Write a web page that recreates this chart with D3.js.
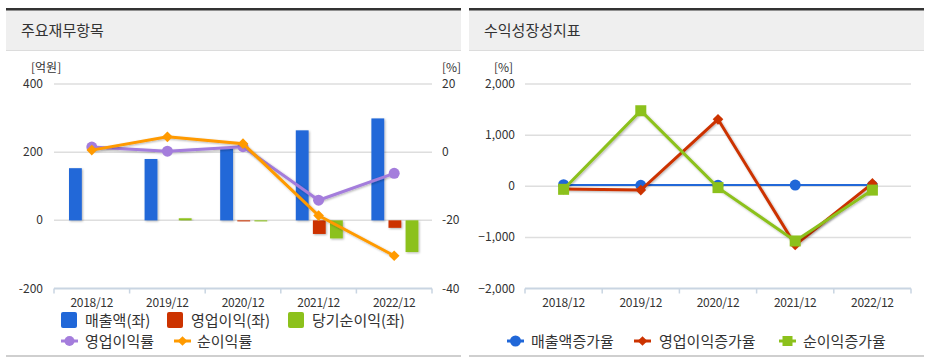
<!DOCTYPE html>
<html>
<head>
<meta charset="utf-8">
<script src="https://cdn.jsdelivr.net/npm/d3@7"></script>
<style>
  body { margin: 0; background: #fff; font-family: "Noto Sans CJK KR", "Noto Sans", sans-serif; }
  svg text { fill: #333; }
</style>
</head>
<body>
<div class="svg-wrap"></div>
<script>
// 주요재무항목
let years = ["2018/12", "2019/12", "2020/12", "2021/12", "2022/12"];
let sales = [153, 180, 215, 264, 299];          // 매출액(좌)
let opProfit = [0, 0, -3, -40, -22];            // 영업이익(좌)
let netProfit = [0, 6, -3, -53, -93];           // 당기순이익(좌)
let opMargin = [1.5, 0.3, 1.6, -14.1, -6.2];    // 영업이익률
let netMargin = [0.6, 4.5, 2.5, -18.6, -30.4];  // 순이익률
let leftTicks = [-200, 0, 200, 400];
let rightTicks = [-40, -20, 0, 20];

// 수익성장성지표
let salesGrowth = [30, 18, 19, 23, 14];
let opGrowth = [-55, -75, 1309, -1150, 55];
let netGrowth = [-60, 1477, -27, -1070, -75];
let growthTicks = [-2000, -1000, 0, 1000, 2000];

let blue = "#2067d8", red = "#cc3300", green = "#8cc11c", purple = "#a47ddc", orange = "#ff9a00";

let svg = d3.select(".svg-wrap")
  .append("svg")
  .attr("width", 933)
  .attr("height", 361);

let defs = svg.append("defs");
defs.append("filter")
  .attr("id", "shadow")
  .attr("x", "-30%").attr("y", "-30%").attr("width", "160%").attr("height", "160%")
  .append("feDropShadow")
  .attr("dx", 1).attr("dy", 1)
  .attr("stdDeviation", 1.3)
  .attr("flood-color", "#000")
  .attr("flood-opacity", 0.3);

function panel(x0, title) {
  let g = svg.append("g");
  g.append("rect").attr("x", x0).attr("y", 10).attr("width", 455).attr("height", 40).attr("fill", "#efefef");
  g.append("rect").attr("x", x0).attr("y", 8).attr("width", 455).attr("height", 2.5).attr("fill", "#333");
  g.append("rect").attr("x", x0).attr("y", 50).attr("width", 455).attr("height", 1).attr("fill", "#dcdcdc");
  g.append("rect").attr("x", x0).attr("y", 355).attr("width", 455).attr("height", 2).attr("fill", "#cfcfcf");
  g.append("text").attr("x", x0 + 15).attr("y", 36).style("font-size", "15px").text(title);
  return g;
}

function grid(g, y, ticks, x1, x2) {
  g.selectAll(null)
    .data(ticks.filter(t => t !== y.domain()[0]))
    .enter()
    .append("line")
    .attr("x1", x1).attr("x2", x2)
    .attr("y1", d => y(d)).attr("y2", d => y(d))
    .attr("stroke", "#dedede").attr("stroke-width", 1.5);
}

function bottomAxis(g, x, y0) {
  let r = x.range();
  g.append("line").attr("x1", r[0]).attr("x2", r[1]).attr("y1", y0).attr("y2", y0)
    .attr("stroke", "#c9d5e2").attr("stroke-width", 2);
  let edges = years.map(d => x(d)).concat([r[1]]);
  g.selectAll(null).data(edges).enter().append("line")
    .attr("x1", d => d).attr("x2", d => d)
    .attr("y1", y0).attr("y2", y0 + 5)
    .attr("stroke", "#c9d5e2").attr("stroke-width", 1.5);
  g.selectAll(null).data(years).enter().append("text")
    .attr("x", d => x(d) + x.bandwidth() / 2)
    .attr("y", y0 + 18)
    .attr("text-anchor", "middle")
    .style("font-size", "12px")
    .style("letter-spacing", "-0.3px")
    .text(d => d);
}

function drawLine(g, x, y, values, color) {
  let cx = (d, i) => x(years[i]) + x.bandwidth() / 2;
  g.append("path")
    .datum(values)
    .attr("fill", "none")
    .attr("stroke", color)
    .attr("stroke-width", 3)
    .attr("filter", "url(#shadow)")
    .attr("d", d3.line().x(cx).y(d => y(d)));
  return cx;
}

function marker(g, shape, cx, cy, color, size) {
  if (shape === "circle") {
    g.append("circle").attr("cx", cx).attr("cy", cy).attr("r", size).attr("fill", color);
  } else if (shape === "diamond") {
    g.append("path").attr("d", d3.symbol().type(d3.symbolDiamond2).size(size * size * 2)())
      .attr("transform", `translate(${cx},${cy})`).attr("fill", color);
  } else {
    g.append("rect").attr("x", cx - size / 2).attr("y", cy - size / 2)
      .attr("width", size).attr("height", size).attr("fill", color);
  }
}

// ---------- left chart ----------
let left = panel(6, "주요재무항목");

let xL = d3.scaleBand().domain(years).range([54, 432]);
let yL = d3.scaleLinear().domain([-200, 400]).range([288.5, 84]);
let yR = d3.scaleLinear().domain([-40, 20]).range([288.5, 84]);

grid(left, yL, leftTicks, 54, 432);

left.selectAll(null).data(leftTicks).enter().append("text")
  .attr("x", 43).attr("y", d => yL(d) + 4)
  .attr("text-anchor", "end").style("font-size", "12px").text(d => d);
left.selectAll(null).data(rightTicks).enter().append("text")
  .attr("x", 442).attr("y", d => yR(d) + 4)
  .style("font-size", "12px").text(d => d);
left.append("text").attr("x", 31).attr("y", 72).style("font-size", "12px").text("[억원]");
left.append("text").attr("x", 442).attr("y", 72).style("font-size", "12px").text("[%]");

let barSeries = [
  { name: "매출액(좌)", values: sales, color: blue },
  { name: "영업이익(좌)", values: opProfit, color: red },
  { name: "당기순이익(좌)", values: netProfit, color: green }
];
let inner = d3.scaleBand().domain([0, 1, 2]).range([15, 62]).paddingInner(0.25);

barSeries.forEach((s, si) => {
  left.selectAll(null)
    .data(s.values)
    .enter()
    .append("rect")
    .attr("x", (d, i) => xL(years[i]) + inner(si))
    .attr("width", inner.bandwidth())
    .attr("y", d => Math.min(yL(d), yL(0)))
    .attr("height", d => Math.abs(yL(d) - yL(0)))
    .attr("fill", s.color)
    .attr("filter", "url(#shadow)");
});

bottomAxis(left, xL, 288.5);

let cxL = drawLine(left, xL, yR, opMargin, purple);
opMargin.forEach((d, i) => marker(left, "circle", cxL(d, i), yR(d), purple, 5.5));
drawLine(left, xL, yR, netMargin, orange);
netMargin.forEach((d, i) => marker(left, "diamond", cxL(d, i), yR(d), orange, 6));

// legend left
let legL = left.append("g");
[[61, 85], [167, 191], [288, 312]].forEach((p, i) => {
  legL.append("rect").attr("x", p[0]).attr("y", 312).attr("width", 16).attr("height", 16)
    .attr("rx", 2).attr("fill", barSeries[i].color);
  legL.append("text").attr("x", p[1]).attr("y", 326).style("font-size", "15px").text(barSeries[i].name);
});
[[61, 85, purple, "circle", "영업이익률"], [174, 197, orange, "diamond", "순이익률"]].forEach(p => {
  legL.append("line").attr("x1", p[0]).attr("x2", p[0] + 17).attr("y1", 341).attr("y2", 341)
    .attr("stroke", p[2]).attr("stroke-width", 3);
  marker(legL, p[3], p[0] + 8.5, 341, p[2], p[3] === "circle" ? 5 : 5.5);
  legL.append("text").attr("x", p[1]).attr("y", 347).style("font-size", "15px").text(p[4]);
});

// ---------- right chart ----------
let right = panel(469, "수익성장성지표");

let xG = d3.scaleBand().domain(years).range([525, 911]);
let yG = d3.scaleLinear().domain([-2000, 2000]).range([288.5, 84]);

grid(right, yG, growthTicks, 525, 911);
right.selectAll(null).data(growthTicks).enter().append("text")
  .attr("x", 515).attr("y", d => yG(d) + 4)
  .attr("text-anchor", "end").style("font-size", "12px").text(d => d3.format(",")(d));
right.append("text").attr("x", 494).attr("y", 72).style("font-size", "12px").text("[%]");

bottomAxis(right, xG, 288.5);

let growthSeries = [
  { name: "매출액증가율", values: salesGrowth, color: blue, shape: "circle", size: 5.5 },
  { name: "영업이익증가율", values: opGrowth, color: red, shape: "diamond", size: 6 },
  { name: "순이익증가율", values: netGrowth, color: green, shape: "square", size: 11 }
];
growthSeries.forEach(s => {
  let cx = drawLine(right, xG, yG, s.values, s.color);
  s.values.forEach((d, i) => marker(right, s.shape, cx(d, i), yG(d), s.color, s.size));
});

// legend right
[[507, 531], [634, 659], [779, 803]].forEach((p, i) => {
  let s = growthSeries[i];
  right.append("line").attr("x1", p[0]).attr("x2", p[0] + 17).attr("y1", 341).attr("y2", 341)
    .attr("stroke", s.color).attr("stroke-width", 3);
  marker(right, s.shape, p[0] + 8.5, 341, s.color, s.shape === "square" ? 10 : 5.5);
  right.append("text").attr("x", p[1]).attr("y", 347).style("font-size", "15px").text(s.name);
});
</script>
</body>
</html>
